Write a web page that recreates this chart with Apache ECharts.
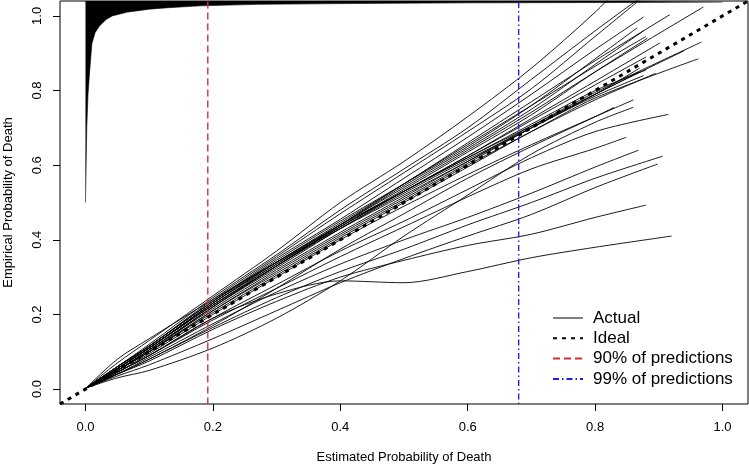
<!DOCTYPE html>
<html>
<head>
<meta charset="utf-8">
<script src="https://cdn.jsdelivr.net/npm/echarts@6/dist/echarts.min.js"></script>
<style>
  html, body { margin: 0; padding: 0; background: #fff; }
  #chart { width: 749px; height: 468px; }
</style>
</head>
<body>
<div id="chart"></div>
<script>
// x positions shared by all calibration curves (after the common start point)
const startPt = [0.001, 0.003];
const xGrid = [0.05, 0.1, 0.2, 0.3, 0.4, 0.5, 0.6, 0.7, 0.8];

// empirical probability at each xGrid position, one row per curve
const curveY = [
  [0.07, 0.13, 0.25, 0.37, 0.50, 0.61, 0.73, 0.86, 1.01],
  [0.06, 0.12, 0.245, 0.36, 0.48, 0.59, 0.70, 0.83, 0.96],
  [0.06, 0.115, 0.24, 0.355, 0.47, 0.58, 0.69, 0.805, 0.945],
  [0.055, 0.115, 0.235, 0.35, 0.455, 0.565, 0.675, 0.79, 0.91],
  [0.055, 0.11, 0.23, 0.34, 0.445, 0.55, 0.66, 0.77, 0.88],
  [0.055, 0.11, 0.225, 0.335, 0.44, 0.54, 0.64, 0.742, 0.85],
  [0.06, 0.115, 0.235, 0.345, 0.45, 0.55, 0.65, 0.76, 0.885],
  [0.055, 0.11, 0.23, 0.34, 0.44, 0.545, 0.645, 0.75, 0.87],
  [0.055, 0.11, 0.225, 0.33, 0.435, 0.535, 0.635, 0.735, 0.85],
  [0.05, 0.105, 0.22, 0.325, 0.43, 0.53, 0.625, 0.725, 0.825],
  [0.05, 0.105, 0.215, 0.32, 0.42, 0.515, 0.61, 0.705, 0.795],
  [0.05, 0.10, 0.21, 0.315, 0.415, 0.51, 0.605, 0.70, 0.79],
  [0.05, 0.10, 0.21, 0.31, 0.41, 0.505, 0.60, 0.69, 0.78],
  [0.05, 0.10, 0.205, 0.305, 0.405, 0.50, 0.595, 0.69, 0.775],
  [0.055, 0.11, 0.225, 0.33, 0.43, 0.525, 0.615, 0.70, 0.785],
  [0.055, 0.11, 0.23, 0.335, 0.435, 0.53, 0.62, 0.71, 0.80],
  [0.06, 0.115, 0.235, 0.34, 0.44, 0.53, 0.62, 0.705, 0.79],
  [0.03, 0.05, 0.11, 0.19, 0.29, 0.41, 0.52, 0.63, 0.715],
  [0.045, 0.09, 0.19, 0.28, 0.37, 0.45, 0.535, 0.62, 0.69],
  [0.045, 0.09, 0.185, 0.27, 0.355, 0.435, 0.515, 0.59, 0.645],
  [0.04, 0.085, 0.175, 0.26, 0.335, 0.40, 0.46, 0.525, 0.595],
  [0.04, 0.08, 0.165, 0.245, 0.315, 0.375, 0.44, 0.50, 0.565],
  [0.035, 0.065, 0.135, 0.21, 0.285, 0.35, 0.41, 0.468, 0.54],
  [0.04, 0.075, 0.16, 0.235, 0.30, 0.345, 0.385, 0.415, 0.46],
  [0.045, 0.09, 0.19, 0.255, 0.29, 0.285, 0.315, 0.352, 0.38],
  [0.08, 0.135, 0.24, 0.34, 0.43, 0.52, 0.61, 0.70, 0.79],
  [0.05, 0.10, 0.22, 0.33, 0.44, 0.55, 0.655, 0.76, 0.865],
  [0.05, 0.105, 0.22, 0.33, 0.435, 0.53, 0.625, 0.72, 0.815],
  [0.045, 0.095, 0.20, 0.30, 0.40, 0.49, 0.575, 0.655, 0.73],
  [0.04, 0.08, 0.17, 0.27, 0.375, 0.47, 0.565, 0.65, 0.73]
];

// last point of each curve [x, y]
const curveEnd = [
  [0.84, 1.08], [0.88, 1.06], [0.875, 1.05], [0.876, 0.997], [0.917, 1.003],
  [0.97, 1.024], [0.866, 0.968], [0.876, 0.96], [0.882, 0.94], [0.902, 0.928],
  [0.967, 0.93], [0.94, 0.907], [0.962, 0.885], [0.895, 0.846], [0.876, 0.84],
  [0.88, 0.855], [0.87, 0.85], [0.86, 0.755], [0.915, 0.736], [0.849, 0.675],
  [0.868, 0.64], [0.906, 0.624], [0.898, 0.603], [0.88, 0.493], [0.92, 0.41],
  [0.87, 0.86], [0.88, 0.945], [0.88, 0.89], [0.86, 0.775], [0.83, 0.755]
];

// distribution of predictions hanging from the top of the panel (lower edge)
const histPts = [
  [0, 0.50], [0.002, 0.70], [0.004, 0.79], [0.0065, 0.85], [0.01, 0.925],
  [0.015, 0.955], [0.022, 0.973], [0.032, 0.99], [0.042, 1.0], [0.065, 1.01],
  [0.1, 1.018], [0.13, 1.022], [0.18, 1.027], [0.27, 1.031], [0.4, 1.033],
  [0.6, 1.035], [0.85, 1.036], [1.0, 1.037]
];

const idealPts = [[-0.04, -0.04], [1.04, 1.04]];
const cut90 = 0.192;
const cut99 = 0.68;
const ticks = [0, 0.2, 0.4, 0.6, 0.8, 1.0];

const font = '"Liberation Sans", Arial, sans-serif';

const series = [];

series.push({
  name: 'hist',
  type: 'line',
  data: histPts,
  symbol: 'none',
  lineStyle: { color: '#000', width: 0.6 },
  areaStyle: { origin: 'end', color: '#000', opacity: 1 },
  silent: true
});

curveY.forEach((row, i) => {
  series.push({
    name: 'Actual',
    type: 'line',
    data: [startPt].concat(xGrid.map((x, j) => [x, row[j]]), [curveEnd[i]]),
    symbol: 'none',
    smooth: 0.3,
    color: '#000',
    lineStyle: { color: '#000', width: 0.9 },
    silent: true
  });
});

series.push({
  name: '90% of predictions',
  type: 'line',
  data: [[cut90, -0.1], [cut90, 1.1]],
  symbol: 'none',
  color: '#CF3232',
  lineStyle: { color: '#CF3232', width: 1.4, type: [7, 4] },
  silent: true
});

series.push({
  name: '99% of predictions',
  type: 'line',
  data: [[cut99, -0.1], [cut99, 1.1]],
  symbol: 'none',
  color: '#1F1FE8',
  lineStyle: { color: '#1F1FE8', width: 1.4, type: [6, 3, 1.5, 3] },
  silent: true
});

series.push({
  name: 'Ideal',
  type: 'line',
  data: idealPts,
  symbol: 'none',
  color: '#000',
  lineStyle: { color: '#000', width: 3, type: [4, 5] },
  silent: true
});

const chart = echarts.init(document.getElementById('chart'));
chart.setOption({
  animation: false,
  textStyle: { fontFamily: font },
  grid: {
    left: 60, right: 1, top: 1, bottom: 64,
    outerBoundsMode: 'none',
    show: true, borderColor: '#000', borderWidth: 1, backgroundColor: 'transparent'
  },
  legend: {
    data: [
      { name: 'Actual', lineStyle: { width: 1 } },
      'Ideal', '90% of predictions', '99% of predictions'
    ],
    orient: 'vertical',
    left: 547,
    top: 303,
    itemWidth: 30,
    itemHeight: 10,
    itemGap: 0.3,
    selectedMode: false,
    itemStyle: { opacity: 0 },
    textStyle: { fontSize: 17, color: '#000', fontFamily: font, lineHeight: 20, padding: [0, 0, 0, 5] }
  },
  xAxis: {
    type: 'value',
    min: -0.04,
    max: 1.04,
    name: 'Estimated Probability of Death',
    nameLocation: 'middle',
    nameGap: 47,
    nameTextStyle: { fontSize: 13, color: '#000', fontFamily: font },
    axisLine: { show: false, onZero: false },
    splitLine: { show: false },
    axisTick: { show: true, length: 7, lineStyle: { color: '#000' }, customValues: ticks },
    axisLabel: {
      fontSize: 13, color: '#000', margin: 17, customValues: ticks,
      formatter: v => v.toFixed(1)
    }
  },
  yAxis: {
    type: 'value',
    min: -0.04,
    max: 1.04,
    name: 'Empirical Probability of Death',
    nameLocation: 'middle',
    nameGap: 45,
    nameTextStyle: { fontSize: 13, color: '#000', fontFamily: font },
    axisLine: { show: false, onZero: false },
    splitLine: { show: false },
    axisTick: { show: true, length: 7, lineStyle: { color: '#000' }, customValues: ticks },
    axisLabel: {
      fontSize: 13, color: '#000', margin: 16, rotate: 90, customValues: ticks,
      formatter: v => v.toFixed(1)
    }
  },
  series: series
});
</script>
</body>
</html>
